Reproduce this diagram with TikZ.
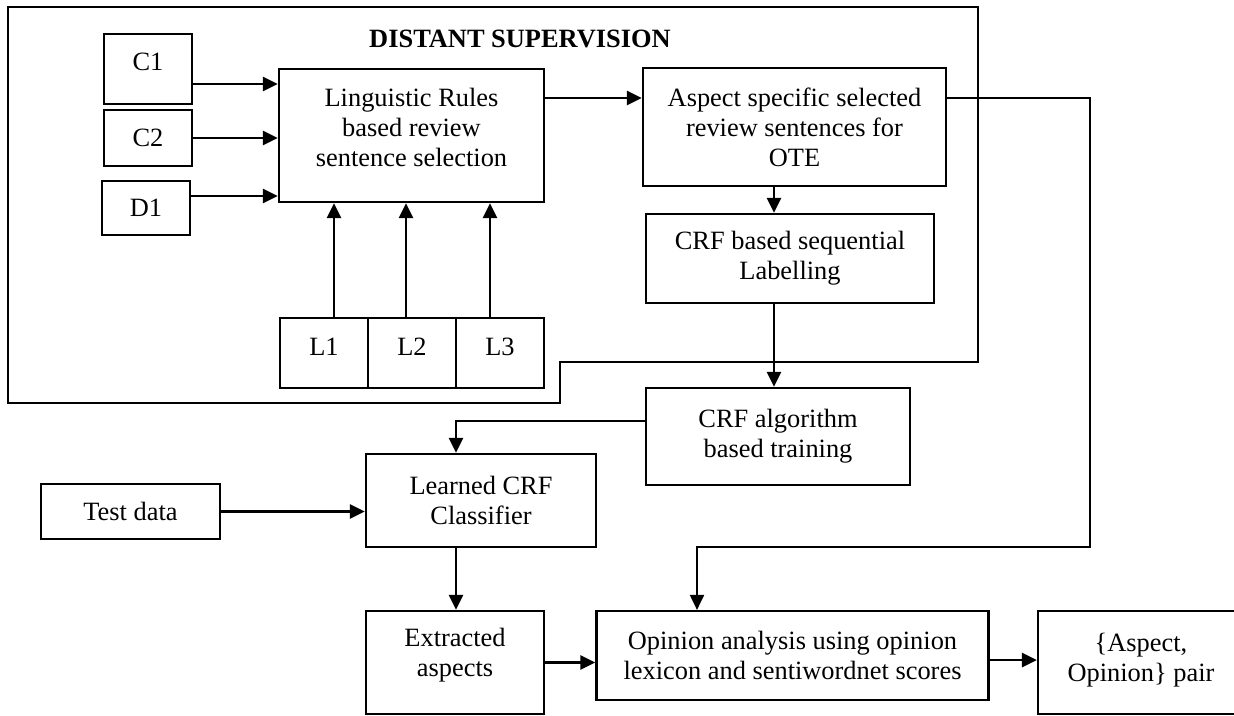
\documentclass[tikz,border=0pt]{standalone}
\usepackage{fontspec}
\setmainfont{Liberation Serif}
\usetikzlibrary{arrows.meta}

\begin{document}
\begin{tikzpicture}[x=1pt,y=-1pt,
    box/.style={draw,line width=2.2pt,inner sep=0pt,align=center,
                font=\fontsize{26.4}{30}\selectfont},
    arr/.style={-{Triangle[length=15pt,width=14pt]},line width=2.8pt},
    thinline/.style={line width=2pt}]
\useasboundingbox (0,0) rectangle (1234,715);

\coordinate (bend) at (1090,547);

% distant supervision part
\draw[thinline] (8,7) -- (978,7) -- (978,362) -- (560,362) -- (560,403) -- (8,403) -- cycle;
\node[font=\bfseries\fontsize{26.4}{30}\selectfont] (title) at (520,39) {DISTANT SUPERVISION};

\node[box,minimum width=88pt,minimum height=70pt,text depth=14pt] (c1) at (148,69) {C1};
\node[box,minimum width=88pt,minimum height=56pt] (c2) at (148,138) {C2};
\node[box,minimum width=88pt,minimum height=54pt] (d1) at (146,208) {D1};

\node[box,minimum width=265pt,minimum height=133pt,text depth=16pt] (rules) at (411.5,135.5)
     {Linguistic Rules\\based review\\sentence selection};

\node[box,minimum width=88pt,minimum height=70pt,text depth=12pt] (l1) at (324,353) {L1};
\node[box,minimum width=88pt,minimum height=70pt,text depth=12pt] (l2) at (412,353) {L2};
\node[box,minimum width=88pt,minimum height=70pt,text depth=12pt] (l3) at (500,353) {L3};

\node[box,minimum width=303pt,minimum height=118pt] (aspect) at (794.5,127)
     {Aspect specific selected\\review sentences for\\OTE};
\node[box,minimum width=288pt,minimum height=89pt] (crfseq) at (790,258.5)
     {CRF based sequential\\Labelling};

% training and testing
\node[box,minimum width=264pt,minimum height=97pt] (crfalg) at (778,436.5)
     {CRF algorithm\\based training};
\node[box,minimum width=230pt,minimum height=93pt] (learned) at (481,500.5)
     {Learned CRF\\Classifier};
\node[box,minimum width=179pt,minimum height=55pt] (test) at (130.5,511.5) {Test data};
\node[box,minimum width=178pt,minimum height=103pt,text depth=20pt] (extracted) at (455,662.5)
     {Extracted\\aspects};
\node[box,minimum width=392pt,minimum height=89pt] (opinion) at (792.5,655.5)
     {Opinion analysis using opinion\\lexicon and sentiwordnet scores};
\node[box,minimum width=206pt,minimum height=103pt,text depth=10pt] (pair) at (1141,662.5)
     {\{Aspect,\\Opinion\} pair};

\draw[arr] ([yshift=-15pt]c1.east) -- ([yshift=-15pt]c1.east -| rules.west);
\draw[arr] (c2.east) -- (c2.east -| rules.west);
\draw[arr] ([yshift=12pt]d1.east) -- ([yshift=12pt]d1.east -| rules.west);

\draw[arr] ([xshift=10pt]l1.north) -- ([xshift=10pt]l1.north |- rules.south);
\draw[arr] ([xshift=-6pt]l2.north) -- ([xshift=-6pt]l2.north |- rules.south);
\draw[arr] ([xshift=-10pt]l3.north) -- ([xshift=-10pt]l3.north |- rules.south);

\draw[arr] ([yshift=37.5pt]rules.east) -- ([yshift=37.5pt]rules.east -| aspect.west);
\draw[arr] ([xshift=-20.5pt]aspect.south) -- ([xshift=-20.5pt]aspect.south |- crfseq.north);
\draw[arr] ([xshift=-16pt]crfseq.south) -- ([xshift=-16pt]crfseq.south |- crfalg.north);
\draw[arr] ([yshift=15.5pt]crfalg.west) -| ([xshift=-25pt]learned.north);
\draw[arr] (test.east) -- (test.east -| learned.west);
\draw[arr] ([xshift=-25pt]learned.south) -- ([xshift=-25pt]learned.south |- extracted.north);
\draw[arr] (extracted.east) -- (extracted.east -| opinion.west);
\draw[arr] ([yshift=-4.5pt]opinion.east) -- ([yshift=-4.5pt]opinion.east -| pair.west);

\draw[thinline,-{Triangle[length=15pt,width=14pt]}] ([yshift=29pt]aspect.east) -| (bend)
     -| ([xshift=-95.5pt]opinion.north);
\end{tikzpicture}
\end{document}
